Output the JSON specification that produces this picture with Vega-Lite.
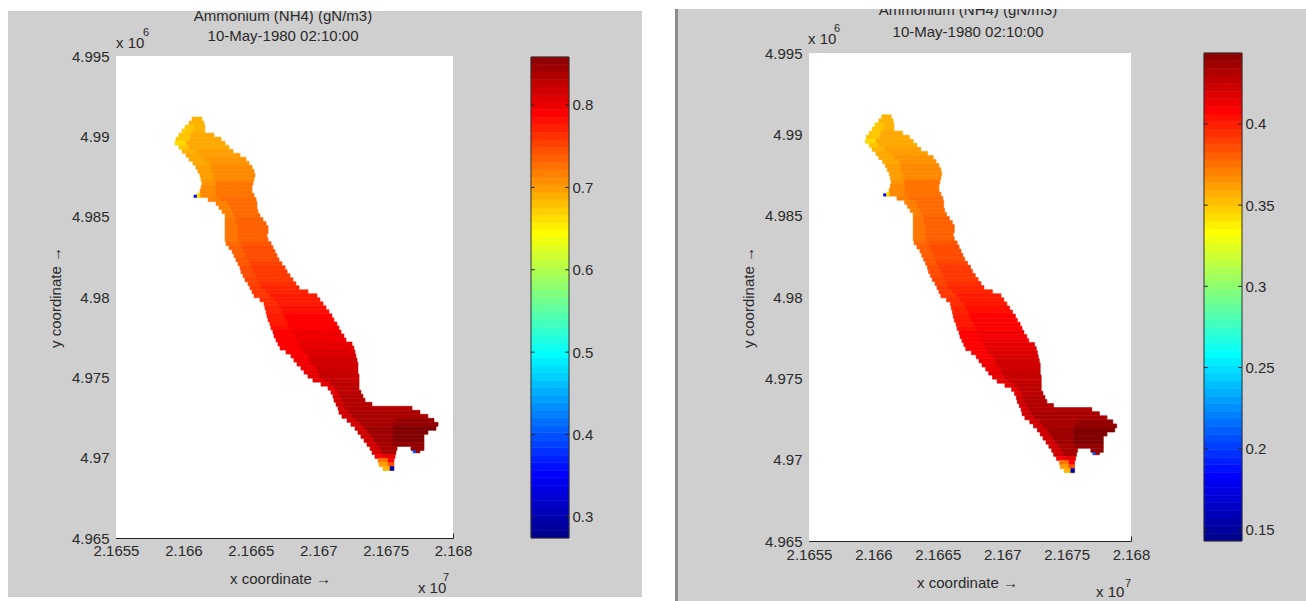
{"$schema":"https://vega.github.io/schema/vega-lite/v6.json","padding":{"left":8,"top":9,"right":0,"bottom":0},"background":"white","spacing":33,"bounds":"flush","config":{"view":{"fill":"#cfcfcf","stroke":null},"axis":{"grid":false,"labelFont":"Liberation Sans","titleFont":"Liberation Sans","labelFontSize":15,"titleFontSize":15,"titleFontWeight":"normal","labelColor":"#2a2a2a","titleColor":"#2a2a2a","domainColor":"#222222","tickColor":"#222222","labelOverlap":false,"labelBound":false,"labelFlush":false}},
"datasets":{"cells":[
{"x0":21660640,"x1":21661010,"y0":4990950,"y1":4991200,"a":0.6831,"b":0.3536},{"x0":21661010,"x1":21661380,"y0":4990950,"y1":4991200,"a":0.6831,"b":0.3536},
{"x0":21660420,"x1":21661010,"y0":4990700,"y1":4990950,"a":0.6831,"b":0.3536},{"x0":21661010,"x1":21661530,"y0":4990700,"y1":4990950,"a":0.6831,"b":0.3536},
{"x0":21660120,"x1":21660860,"y0":4990450,"y1":4990700,"a":0.6714,"b":0.3475},{"x0":21660860,"x1":21661600,"y0":4990450,"y1":4990700,"a":0.6831,"b":0.3536},
{"x0":21659900,"x1":21660710,"y0":4990200,"y1":4990450,"a":0.6714,"b":0.3475},{"x0":21660710,"x1":21661600,"y0":4990200,"y1":4990450,"a":0.6831,"b":0.3536},
{"x0":21659670,"x1":21660560,"y0":4989950,"y1":4990200,"a":0.6714,"b":0.3475},{"x0":21660560,"x1":21662270,"y0":4989950,"y1":4990200,"a":0.6889,"b":0.3566},
{"x0":21659450,"x1":21660490,"y0":4989700,"y1":4989950,"a":0.6714,"b":0.3475},{"x0":21660490,"x1":21662790,"y0":4989700,"y1":4989950,"a":0.6889,"b":0.3566},
{"x0":21659380,"x1":21660200,"y0":4989450,"y1":4989700,"a":0.6597,"b":0.3415},{"x0":21660200,"x1":21663090,"y0":4989450,"y1":4989700,"a":0.6889,"b":0.3566},
{"x0":21659670,"x1":21660400,"y0":4989200,"y1":4989450,"a":0.6714,"b":0.3475},{"x0":21660400,"x1":21663380,"y0":4989200,"y1":4989450,"a":0.6889,"b":0.3566},
{"x0":21659900,"x1":21660930,"y0":4988950,"y1":4989200,"a":0.6831,"b":0.3536},{"x0":21660930,"x1":21663680,"y0":4988950,"y1":4989200,"a":0.6948,"b":0.3596},
{"x0":21660190,"x1":21661230,"y0":4988700,"y1":4988950,"a":0.6889,"b":0.3566},{"x0":21661230,"x1":21664200,"y0":4988700,"y1":4988950,"a":0.6948,"b":0.3596},
{"x0":21660420,"x1":21661600,"y0":4988450,"y1":4988700,"a":0.6889,"b":0.3566},{"x0":21661600,"x1":21664640,"y0":4988450,"y1":4988700,"a":0.7006,"b":0.3626},
{"x0":21660710,"x1":21661970,"y0":4988200,"y1":4988450,"a":0.6889,"b":0.3566},{"x0":21661970,"x1":21664870,"y0":4988200,"y1":4988450,"a":0.7006,"b":0.3626},
{"x0":21660930,"x1":21662120,"y0":4987950,"y1":4988200,"a":0.6948,"b":0.3596},{"x0":21662120,"x1":21665090,"y0":4987950,"y1":4988200,"a":0.7064,"b":0.3656},
{"x0":21661080,"x1":21662120,"y0":4987700,"y1":4987950,"a":0.6948,"b":0.3596},{"x0":21662120,"x1":21665240,"y0":4987700,"y1":4987950,"a":0.7064,"b":0.3656},
{"x0":21661230,"x1":21662270,"y0":4987450,"y1":4987700,"a":0.6948,"b":0.3596},{"x0":21662270,"x1":21665310,"y0":4987450,"y1":4987700,"a":0.7064,"b":0.3656},
{"x0":21661310,"x1":21662270,"y0":4987200,"y1":4987450,"a":0.6948,"b":0.3596},{"x0":21662270,"x1":21665240,"y0":4987200,"y1":4987450,"a":0.7064,"b":0.3656},
{"x0":21661380,"x1":21662420,"y0":4986950,"y1":4987200,"a":0.7006,"b":0.3626},{"x0":21662420,"x1":21665160,"y0":4986950,"y1":4987200,"a":0.7181,"b":0.3716},
{"x0":21661310,"x1":21662420,"y0":4986700,"y1":4986950,"a":0.7064,"b":0.3656},{"x0":21662420,"x1":21665090,"y0":4986700,"y1":4986950,"a":0.7181,"b":0.3716},
{"x0":21661230,"x1":21662420,"y0":4986450,"y1":4986700,"a":0.7064,"b":0.3656},{"x0":21662420,"x1":21665090,"y0":4986450,"y1":4986700,"a":0.7181,"b":0.3716},
{"x0":21661160,"x1":21662420,"y0":4986200,"y1":4986450,"a":0.7064,"b":0.3656},{"x0":21662420,"x1":21665240,"y0":4986200,"y1":4986450,"a":0.7181,"b":0.3716},
{"x0":21660790,"x1":21661010,"y0":4986200,"y1":4986350,"a":0.3445,"b":0.1793},{"x0":21661010,"x1":21661230,"y0":4986200,"y1":4986450,"a":0.6597,"b":0.3415},
{"x0":21661830,"x1":21662720,"y0":4985950,"y1":4986200,"a":0.7122,"b":0.3686},{"x0":21662720,"x1":21665390,"y0":4985950,"y1":4986200,"a":0.7239,"b":0.3746},
{"x0":21662420,"x1":21663310,"y0":4985700,"y1":4985950,"a":0.7122,"b":0.3686},{"x0":21663310,"x1":21665460,"y0":4985700,"y1":4985950,"a":0.7239,"b":0.3746},
{"x0":21662640,"x1":21663460,"y0":4985450,"y1":4985700,"a":0.7122,"b":0.3686},{"x0":21663460,"x1":21665460,"y0":4985450,"y1":4985700,"a":0.7239,"b":0.3746},
{"x0":21662860,"x1":21663610,"y0":4985200,"y1":4985450,"a":0.7122,"b":0.3686},{"x0":21663610,"x1":21665530,"y0":4985200,"y1":4985450,"a":0.7239,"b":0.3746},
{"x0":21663090,"x1":21663750,"y0":4984950,"y1":4985200,"a":0.7122,"b":0.3686},{"x0":21663750,"x1":21665680,"y0":4984950,"y1":4985200,"a":0.7239,"b":0.3746},
{"x0":21663090,"x1":21663900,"y0":4984700,"y1":4984950,"a":0.7181,"b":0.3716},{"x0":21663900,"x1":21665900,"y0":4984700,"y1":4984950,"a":0.7298,"b":0.3776},
{"x0":21663090,"x1":21663900,"y0":4984450,"y1":4984700,"a":0.7181,"b":0.3716},{"x0":21663900,"x1":21666130,"y0":4984450,"y1":4984700,"a":0.7298,"b":0.3776},
{"x0":21663090,"x1":21664050,"y0":4984200,"y1":4984450,"a":0.7181,"b":0.3716},{"x0":21664050,"x1":21666280,"y0":4984200,"y1":4984450,"a":0.7298,"b":0.3776},
{"x0":21663090,"x1":21664050,"y0":4983950,"y1":4984200,"a":0.7181,"b":0.3716},{"x0":21664050,"x1":21666280,"y0":4983950,"y1":4984200,"a":0.7298,"b":0.3776},
{"x0":21663090,"x1":21664050,"y0":4983700,"y1":4983950,"a":0.7181,"b":0.3716},{"x0":21664050,"x1":21666200,"y0":4983700,"y1":4983950,"a":0.7298,"b":0.3776},
{"x0":21663090,"x1":21664050,"y0":4983450,"y1":4983700,"a":0.7181,"b":0.3716},{"x0":21664050,"x1":21666280,"y0":4983450,"y1":4983700,"a":0.7298,"b":0.3776},
{"x0":21663160,"x1":21664200,"y0":4983200,"y1":4983450,"a":0.7239,"b":0.3746},{"x0":21664200,"x1":21666500,"y0":4983200,"y1":4983450,"a":0.7356,"b":0.3806},
{"x0":21663380,"x1":21664350,"y0":4982950,"y1":4983200,"a":0.7298,"b":0.3776},{"x0":21664350,"x1":21666650,"y0":4982950,"y1":4983200,"a":0.7415,"b":0.3836},
{"x0":21663610,"x1":21664500,"y0":4982700,"y1":4982950,"a":0.7298,"b":0.3776},{"x0":21664500,"x1":21666800,"y0":4982700,"y1":4982950,"a":0.7415,"b":0.3836},
{"x0":21663750,"x1":21664640,"y0":4982450,"y1":4982700,"a":0.7298,"b":0.3776},{"x0":21664640,"x1":21666940,"y0":4982450,"y1":4982700,"a":0.7415,"b":0.3836},
{"x0":21663900,"x1":21664790,"y0":4982200,"y1":4982450,"a":0.7356,"b":0.3806},{"x0":21664790,"x1":21667090,"y0":4982200,"y1":4982450,"a":0.7415,"b":0.3836},
{"x0":21664050,"x1":21664940,"y0":4981950,"y1":4982200,"a":0.7356,"b":0.3806},{"x0":21664940,"x1":21667310,"y0":4981950,"y1":4982200,"a":0.7473,"b":0.3866},
{"x0":21664200,"x1":21665090,"y0":4981700,"y1":4981950,"a":0.7415,"b":0.3836},{"x0":21665090,"x1":21667540,"y0":4981700,"y1":4981950,"a":0.7531,"b":0.3896},
{"x0":21664270,"x1":21665240,"y0":4981450,"y1":4981700,"a":0.7415,"b":0.3836},{"x0":21665240,"x1":21667690,"y0":4981450,"y1":4981700,"a":0.7531,"b":0.3896},
{"x0":21664420,"x1":21665390,"y0":4981200,"y1":4981450,"a":0.7415,"b":0.3836},{"x0":21665390,"x1":21667910,"y0":4981200,"y1":4981450,"a":0.7531,"b":0.3896},
{"x0":21664570,"x1":21665530,"y0":4980950,"y1":4981200,"a":0.7473,"b":0.3866},{"x0":21665530,"x1":21668130,"y0":4980950,"y1":4981200,"a":0.7531,"b":0.3896},
{"x0":21664790,"x1":21665680,"y0":4980700,"y1":4980950,"a":0.7473,"b":0.3866},{"x0":21665680,"x1":21668350,"y0":4980700,"y1":4980950,"a":0.7589,"b":0.3926},
{"x0":21664940,"x1":21665830,"y0":4980450,"y1":4980700,"a":0.7531,"b":0.3896},{"x0":21665830,"x1":21668580,"y0":4980450,"y1":4980700,"a":0.7648,"b":0.3956},
{"x0":21665090,"x1":21666130,"y0":4980200,"y1":4980450,"a":0.7531,"b":0.3896},{"x0":21666130,"x1":21669240,"y0":4980200,"y1":4980450,"a":0.7648,"b":0.3956},
{"x0":21665240,"x1":21666420,"y0":4979950,"y1":4980200,"a":0.7531,"b":0.3896},{"x0":21666420,"x1":21669910,"y0":4979950,"y1":4980200,"a":0.7706,"b":0.3986},
{"x0":21665680,"x1":21666720,"y0":4979700,"y1":4979950,"a":0.7589,"b":0.3926},{"x0":21666720,"x1":21670130,"y0":4979700,"y1":4979950,"a":0.7706,"b":0.3986},
{"x0":21665980,"x1":21667020,"y0":4979450,"y1":4979700,"a":0.7589,"b":0.3926},{"x0":21667020,"x1":21670360,"y0":4979450,"y1":4979700,"a":0.7706,"b":0.3986},
{"x0":21666050,"x1":21667170,"y0":4979200,"y1":4979450,"a":0.7648,"b":0.3956},{"x0":21667170,"x1":21670580,"y0":4979200,"y1":4979450,"a":0.7765,"b":0.4016},
{"x0":21666130,"x1":21667310,"y0":4978950,"y1":4979200,"a":0.7648,"b":0.3956},{"x0":21667310,"x1":21670800,"y0":4978950,"y1":4979200,"a":0.7765,"b":0.4016},
{"x0":21666200,"x1":21667460,"y0":4978700,"y1":4978950,"a":0.7706,"b":0.3986},{"x0":21667460,"x1":21671020,"y0":4978700,"y1":4978950,"a":0.7852,"b":0.4061},
{"x0":21666280,"x1":21667610,"y0":4978450,"y1":4978700,"a":0.7706,"b":0.3986},{"x0":21667610,"x1":21671170,"y0":4978450,"y1":4978700,"a":0.7852,"b":0.4061},
{"x0":21666420,"x1":21667760,"y0":4978200,"y1":4978450,"a":0.7706,"b":0.3986},{"x0":21667760,"x1":21671390,"y0":4978200,"y1":4978450,"a":0.7852,"b":0.4061},
{"x0":21666500,"x1":21667910,"y0":4977950,"y1":4978200,"a":0.7765,"b":0.4016},{"x0":21667910,"x1":21671540,"y0":4977950,"y1":4978200,"a":0.7852,"b":0.4061},
{"x0":21666650,"x1":21668060,"y0":4977700,"y1":4977950,"a":0.7852,"b":0.4061},{"x0":21668060,"x1":21671690,"y0":4977700,"y1":4977950,"a":0.794,"b":0.4106},
{"x0":21666720,"x1":21668200,"y0":4977450,"y1":4977700,"a":0.7852,"b":0.4061},{"x0":21668200,"x1":21671910,"y0":4977450,"y1":4977700,"a":0.794,"b":0.4106},
{"x0":21666870,"x1":21668350,"y0":4977200,"y1":4977450,"a":0.7852,"b":0.4061},{"x0":21668350,"x1":21672060,"y0":4977200,"y1":4977450,"a":0.794,"b":0.4106},
{"x0":21667020,"x1":21668500,"y0":4976950,"y1":4977200,"a":0.7852,"b":0.4061},{"x0":21668500,"x1":21672510,"y0":4976950,"y1":4977200,"a":0.7998,"b":0.4137},
{"x0":21667170,"x1":21668650,"y0":4976700,"y1":4976950,"a":0.7852,"b":0.4061},{"x0":21668650,"x1":21672650,"y0":4976700,"y1":4976950,"a":0.7998,"b":0.4137},
{"x0":21667610,"x1":21668950,"y0":4976450,"y1":4976700,"a":0.7882,"b":0.4076},{"x0":21668950,"x1":21672730,"y0":4976450,"y1":4976700,"a":0.8057,"b":0.4167},
{"x0":21667980,"x1":21669240,"y0":4976200,"y1":4976450,"a":0.7882,"b":0.4076},{"x0":21669240,"x1":21672800,"y0":4976200,"y1":4976450,"a":0.8057,"b":0.4167},
{"x0":21668200,"x1":21669390,"y0":4975950,"y1":4976200,"a":0.794,"b":0.4106},{"x0":21669390,"x1":21672880,"y0":4975950,"y1":4976200,"a":0.8115,"b":0.4197},
{"x0":21668430,"x1":21669540,"y0":4975700,"y1":4975950,"a":0.794,"b":0.4106},{"x0":21669540,"x1":21672950,"y0":4975700,"y1":4975950,"a":0.8115,"b":0.4197},
{"x0":21668720,"x1":21669840,"y0":4975450,"y1":4975700,"a":0.794,"b":0.4106},{"x0":21669840,"x1":21672950,"y0":4975450,"y1":4975700,"a":0.8115,"b":0.4197},
{"x0":21668950,"x1":21669980,"y0":4975200,"y1":4975450,"a":0.7998,"b":0.4137},{"x0":21669980,"x1":21672950,"y0":4975200,"y1":4975450,"a":0.8173,"b":0.4227},
{"x0":21669240,"x1":21670130,"y0":4974950,"y1":4975200,"a":0.7998,"b":0.4137},{"x0":21670130,"x1":21673030,"y0":4974950,"y1":4975200,"a":0.8173,"b":0.4227},
{"x0":21669610,"x1":21670430,"y0":4974700,"y1":4974950,"a":0.7998,"b":0.4137},{"x0":21670430,"x1":21673030,"y0":4974700,"y1":4974950,"a":0.8173,"b":0.4227},
{"x0":21670210,"x1":21670870,"y0":4974450,"y1":4974700,"a":0.7998,"b":0.4137},{"x0":21670870,"x1":21673030,"y0":4974450,"y1":4974700,"a":0.8232,"b":0.4257},
{"x0":21670730,"x1":21671250,"y0":4974200,"y1":4974450,"a":0.7998,"b":0.4137},{"x0":21671250,"x1":21673030,"y0":4974200,"y1":4974450,"a":0.8232,"b":0.4257},
{"x0":21670950,"x1":21671470,"y0":4973950,"y1":4974200,"a":0.7998,"b":0.4137},{"x0":21671470,"x1":21673170,"y0":4973950,"y1":4974200,"a":0.8232,"b":0.4257},
{"x0":21671100,"x1":21671620,"y0":4973700,"y1":4973950,"a":0.8115,"b":0.4197},{"x0":21671620,"x1":21673320,"y0":4973700,"y1":4973950,"a":0.829,"b":0.4287},
{"x0":21671170,"x1":21671760,"y0":4973450,"y1":4973700,"a":0.8115,"b":0.4197},{"x0":21671760,"x1":21673470,"y0":4973450,"y1":4973700,"a":0.829,"b":0.4287},
{"x0":21671320,"x1":21671910,"y0":4973200,"y1":4973450,"a":0.8115,"b":0.4197},{"x0":21671910,"x1":21673990,"y0":4973200,"y1":4973450,"a":0.829,"b":0.4287},
{"x0":21671470,"x1":21672060,"y0":4972950,"y1":4973200,"a":0.8115,"b":0.4197},{"x0":21672060,"x1":21676960,"y0":4972950,"y1":4973200,"a":0.829,"b":0.4287},
{"x0":21671540,"x1":21672280,"y0":4972700,"y1":4972950,"a":0.8115,"b":0.4197},{"x0":21672280,"x1":21677550,"y0":4972700,"y1":4972950,"a":0.8349,"b":0.4317},
{"x0":21671760,"x1":21672510,"y0":4972450,"y1":4972700,"a":0.8115,"b":0.4197},{"x0":21672510,"x1":21678140,"y0":4972450,"y1":4972700,"a":0.8349,"b":0.4317},
{"x0":21672140,"x1":21672880,"y0":4972200,"y1":4972450,"a":0.8115,"b":0.4197},{"x0":21672880,"x1":21675850,"y0":4972200,"y1":4972450,"a":0.8349,"b":0.4317},{"x0":21675850,"x1":21678590,"y0":4972200,"y1":4972450,"a":0.8465,"b":0.4377},
{"x0":21672430,"x1":21673170,"y0":4971950,"y1":4972200,"a":0.8115,"b":0.4197},{"x0":21673170,"x1":21675550,"y0":4971950,"y1":4972200,"a":0.8349,"b":0.4317},{"x0":21675550,"x1":21678890,"y0":4971950,"y1":4972200,"a":0.8465,"b":0.4377},
{"x0":21672730,"x1":21673470,"y0":4971700,"y1":4971950,"a":0.8115,"b":0.4197},{"x0":21673470,"x1":21675550,"y0":4971700,"y1":4971950,"a":0.8407,"b":0.4347},{"x0":21675550,"x1":21678740,"y0":4971700,"y1":4971950,"a":0.8582,"b":0.4437},
{"x0":21672950,"x1":21673690,"y0":4971450,"y1":4971700,"a":0.8115,"b":0.4197},{"x0":21673690,"x1":21675550,"y0":4971450,"y1":4971700,"a":0.8407,"b":0.4347},{"x0":21675550,"x1":21678140,"y0":4971450,"y1":4971700,"a":0.8582,"b":0.4437},
{"x0":21673170,"x1":21673920,"y0":4971200,"y1":4971450,"a":0.8115,"b":0.4197},{"x0":21673920,"x1":21675550,"y0":4971200,"y1":4971450,"a":0.8407,"b":0.4347},{"x0":21675550,"x1":21677850,"y0":4971200,"y1":4971450,"a":0.8582,"b":0.4437},
{"x0":21673400,"x1":21674140,"y0":4970950,"y1":4971200,"a":0.8115,"b":0.4197},{"x0":21674140,"x1":21675550,"y0":4970950,"y1":4971200,"a":0.8407,"b":0.4347},{"x0":21675550,"x1":21677850,"y0":4970950,"y1":4971200,"a":0.8582,"b":0.4437},
{"x0":21673620,"x1":21674360,"y0":4970700,"y1":4970950,"a":0.8115,"b":0.4197},{"x0":21674360,"x1":21675550,"y0":4970700,"y1":4970950,"a":0.8349,"b":0.4317},{"x0":21675550,"x1":21677850,"y0":4970700,"y1":4970950,"a":0.8465,"b":0.4377},
{"x0":21673840,"x1":21674580,"y0":4970450,"y1":4970700,"a":0.8115,"b":0.4197},{"x0":21674580,"x1":21675850,"y0":4970450,"y1":4970700,"a":0.8349,"b":0.4317},{"x0":21676880,"x1":21677850,"y0":4970450,"y1":4970700,"a":0.8465,"b":0.4377},
{"x0":21673990,"x1":21674730,"y0":4970200,"y1":4970450,"a":0.8115,"b":0.4197},{"x0":21674730,"x1":21675770,"y0":4970200,"y1":4970450,"a":0.8349,"b":0.4317},{"x0":21677030,"x1":21677250,"y0":4970300,"y1":4970450,"a":0.3912,"b":0.2033},{"x0":21677250,"x1":21677550,"y0":4970300,"y1":4970450,"a":0.8465,"b":0.4377},
{"x0":21674210,"x1":21674950,"y0":4969950,"y1":4970200,"a":0.7882,"b":0.4076},{"x0":21674950,"x1":21675700,"y0":4969950,"y1":4970200,"a":0.7998,"b":0.4137},
{"x0":21674440,"x1":21675180,"y0":4969700,"y1":4969950,"a":0.7181,"b":0.3716},{"x0":21675180,"x1":21675620,"y0":4969700,"y1":4969950,"a":0.7882,"b":0.4076},
{"x0":21674510,"x1":21675180,"y0":4969450,"y1":4969700,"a":0.6948,"b":0.3596},{"x0":21675180,"x1":21675620,"y0":4969450,"y1":4969700,"a":0.7415,"b":0.3836},
{"x0":21674810,"x1":21675330,"y0":4969200,"y1":4969450,"a":0.6831,"b":0.3536},{"x0":21675330,"x1":21675620,"y0":4969200,"y1":4969450,"a":0.2862,"b":0.1492}
],
"bar":[
{"a0":0.2745,"a1":0.2836,"b0":0.1432,"b1":0.1479},{"a0":0.2836,"a1":0.2927,"b0":0.1479,"b1":0.1526},{"a0":0.2927,"a1":0.3019,"b0":0.1526,"b1":0.1573},{"a0":0.3019,"a1":0.311,"b0":0.1573,"b1":0.162},{"a0":0.311,"a1":0.3201,"b0":0.162,"b1":0.1667},{"a0":0.3201,"a1":0.3292,"b0":0.1667,"b1":0.1714},{"a0":0.3292,"a1":0.3383,"b0":0.1714,"b1":0.1761},{"a0":0.3383,"a1":0.3475,"b0":0.1761,"b1":0.1808},
{"a0":0.3475,"a1":0.3566,"b0":0.1808,"b1":0.1855},{"a0":0.3566,"a1":0.3657,"b0":0.1855,"b1":0.1902},{"a0":0.3657,"a1":0.3748,"b0":0.1902,"b1":0.1948},{"a0":0.3748,"a1":0.3839,"b0":0.1948,"b1":0.1995},{"a0":0.3839,"a1":0.3931,"b0":0.1995,"b1":0.2042},{"a0":0.3931,"a1":0.4022,"b0":0.2042,"b1":0.2089},{"a0":0.4022,"a1":0.4113,"b0":0.2089,"b1":0.2136},{"a0":0.4113,"a1":0.4204,"b0":0.2136,"b1":0.2183},
{"a0":0.4204,"a1":0.4295,"b0":0.2183,"b1":0.223},{"a0":0.4295,"a1":0.4387,"b0":0.223,"b1":0.2277},{"a0":0.4387,"a1":0.4478,"b0":0.2277,"b1":0.2324},{"a0":0.4478,"a1":0.4569,"b0":0.2324,"b1":0.2371},{"a0":0.4569,"a1":0.466,"b0":0.2371,"b1":0.2418},{"a0":0.466,"a1":0.4751,"b0":0.2418,"b1":0.2465},{"a0":0.4751,"a1":0.4843,"b0":0.2465,"b1":0.2512},{"a0":0.4843,"a1":0.4934,"b0":0.2512,"b1":0.2559},
{"a0":0.4934,"a1":0.5025,"b0":0.2559,"b1":0.2606},{"a0":0.5025,"a1":0.5116,"b0":0.2606,"b1":0.2653},{"a0":0.5116,"a1":0.5207,"b0":0.2653,"b1":0.27},{"a0":0.5207,"a1":0.5299,"b0":0.27,"b1":0.2747},{"a0":0.5299,"a1":0.539,"b0":0.2747,"b1":0.2794},{"a0":0.539,"a1":0.5481,"b0":0.2794,"b1":0.2841},{"a0":0.5481,"a1":0.5572,"b0":0.2841,"b1":0.2888},{"a0":0.5572,"a1":0.5663,"b0":0.2888,"b1":0.2934},
{"a0":0.5663,"a1":0.5755,"b0":0.2934,"b1":0.2981},{"a0":0.5755,"a1":0.5846,"b0":0.2981,"b1":0.3028},{"a0":0.5846,"a1":0.5937,"b0":0.3028,"b1":0.3075},{"a0":0.5937,"a1":0.6028,"b0":0.3075,"b1":0.3122},{"a0":0.6028,"a1":0.6119,"b0":0.3122,"b1":0.3169},{"a0":0.6119,"a1":0.6211,"b0":0.3169,"b1":0.3216},{"a0":0.6211,"a1":0.6302,"b0":0.3216,"b1":0.3263},{"a0":0.6302,"a1":0.6393,"b0":0.3263,"b1":0.331},
{"a0":0.6393,"a1":0.6484,"b0":0.331,"b1":0.3357},{"a0":0.6484,"a1":0.6575,"b0":0.3357,"b1":0.3404},{"a0":0.6575,"a1":0.6667,"b0":0.3404,"b1":0.3451},{"a0":0.6667,"a1":0.6758,"b0":0.3451,"b1":0.3498},{"a0":0.6758,"a1":0.6849,"b0":0.3498,"b1":0.3545},{"a0":0.6849,"a1":0.694,"b0":0.3545,"b1":0.3592},{"a0":0.694,"a1":0.7031,"b0":0.3592,"b1":0.3639},{"a0":0.7031,"a1":0.7123,"b0":0.3639,"b1":0.3686},
{"a0":0.7123,"a1":0.7214,"b0":0.3686,"b1":0.3733},{"a0":0.7214,"a1":0.7305,"b0":0.3733,"b1":0.378},{"a0":0.7305,"a1":0.7396,"b0":0.378,"b1":0.3827},{"a0":0.7396,"a1":0.7487,"b0":0.3827,"b1":0.3874},{"a0":0.7487,"a1":0.7579,"b0":0.3874,"b1":0.392},{"a0":0.7579,"a1":0.767,"b0":0.392,"b1":0.3967},{"a0":0.767,"a1":0.7761,"b0":0.3967,"b1":0.4014},{"a0":0.7761,"a1":0.7852,"b0":0.4014,"b1":0.4061},
{"a0":0.7852,"a1":0.7943,"b0":0.4061,"b1":0.4108},{"a0":0.7943,"a1":0.8035,"b0":0.4108,"b1":0.4155},{"a0":0.8035,"a1":0.8126,"b0":0.4155,"b1":0.4202},{"a0":0.8126,"a1":0.8217,"b0":0.4202,"b1":0.4249},{"a0":0.8217,"a1":0.8308,"b0":0.4249,"b1":0.4296},{"a0":0.8308,"a1":0.8399,"b0":0.4296,"b1":0.4343},{"a0":0.8399,"a1":0.8491,"b0":0.4343,"b1":0.439},{"a0":0.8491,"a1":0.8582,"b0":0.439,"b1":0.4437}
]},
"hconcat":[
{"width":634,"height":588,"resolve":{"scale":{"x":"independent","y":"independent","fill":"independent","stroke":"independent"},"axis":{"x":"independent","y":"independent"}},
"layer":[
{"encoding":{"x":{"field":"x0","type":"quantitative","scale":{"domain":[21655000,21680000],"range":[108,445],"nice":false,"zero":false},"axis":{"values":[21655000,21660000,21665000,21670000,21675000,21680000],"labelExpr":"'' + datum.value/10000000","tickSize":-5,"labelPadding":10,"title":"x coordinate →","titlePadding":13,"offset":-59,"titleX":272}},"y":{"field":"y0","type":"quantitative","scale":{"domain":[4965000,4995000],"range":[529,47],"nice":false,"zero":false},"axis":{"values":[4965000,4970000,4975000,4980000,4985000,4990000,4995000],"labelExpr":"'' + datum.value/1000000","tickSize":-5,"labelPadding":12,"title":"y coordinate →","titlePadding":8,"offset":-108}}},
"layer":[
{"data":{"values":[{"x0":21655000,"x1":21680000,"y0":4965000,"y1":4995000}]},"mark":{"type":"rect","fill":"white"},"encoding":{"x2":{"field":"x1"},"y2":{"field":"y1"}}},
{"data":{"name":"cells"},"mark":{"type":"rect","strokeWidth":0.6},"encoding":{"x2":{"field":"x1"},"y2":{"field":"y1"},"fill":{"field":"a","type":"quantitative","legend":null,"scale":{"domain":[0.2745,0.3475,0.4934,0.6393,0.7852,0.8582],"range":["#00008f","#0000ff","#00ffff","#ffff00","#ff0000","#800000"],"interpolate":"rgb"}},"stroke":{"field":"a","type":"quantitative","legend":null,"scale":{"domain":[0.2745,0.3475,0.4934,0.6393,0.7852,0.8582],"range":["#00008f","#0000ff","#00ffff","#ffff00","#ff0000","#800000"],"interpolate":"rgb"}}}},
{"data":{"values":[{"x0":21667390,"y0":4997180,"t":"Ammonium (NH4) (gN/m3)"},{"x0":21667390,"y0":4995930,"t":"10-May-1980 02:10:00"}]},"mark":{"type":"text","font":"Liberation Sans","fontSize":15,"color":"#2a2a2a","baseline":"alphabetic","align":"center","clip":true},"encoding":{"text":{"field":"t"}}},
{"data":{"values":[{"x0":21655000,"y0":4995500,"t":"x 10"},{"x0":21677400,"y0":4961580,"t":"x 10"}]},"mark":{"type":"text","font":"Liberation Sans","fontSize":15,"color":"#2a2a2a","baseline":"alphabetic","align":"left","clip":true},"encoding":{"text":{"field":"t"}}},
{"data":{"values":[{"x0":21657000,"y0":4996240,"t":"6"},{"x0":21679260,"y0":4962320,"t":"7"}]},"mark":{"type":"text","font":"Liberation Sans","fontSize":11,"color":"#2a2a2a","baseline":"alphabetic","align":"left","clip":true},"encoding":{"text":{"field":"t"}}},
{"data":{"values":[{"x0":21640000,"x1":21695000,"y0":4997800,"y1":4998200}]},"mark":{"type":"rect","fill":"white","clip":true},"encoding":{"x2":{"field":"x1"},"y2":{"field":"y1"}}}
]},
{"encoding":{"y":{"scale":{"domain":[0.2745,0.8582],"range":[529,48],"nice":false,"zero":false}}},"layer":[
{"data":{"name":"bar"},"mark":{"type":"rect","strokeWidth":0.5},"encoding":{"x":{"datum":0,"type":"quantitative","scale":{"domain":[0,1],"range":[523,561]},"axis":null},"x2":{"datum":1},"y":{"field":"a0","type":"quantitative","scale":{"domain":[0.2745,0.8582],"range":[529,48],"nice":false,"zero":false},"axis":{"values":[0.3,0.4,0.5,0.6,0.7,0.8],"orient":"right","ticks":false,"domain":false,"labelPadding":3,"title":null,"offset":-73,"labelExpr":"'' + datum.value"}},"y2":{"field":"a1"},"fill":{"field":"a0","type":"quantitative","legend":null,"scale":{"domain":[0.2745,0.3475,0.4934,0.6393,0.7852,0.8582],"range":["#00008f","#0000ff","#00ffff","#ffff00","#ff0000","#800000"],"interpolate":"rgb"}},"stroke":{"field":"a0","type":"quantitative","legend":null,"scale":{"domain":[0.2745,0.3475,0.4934,0.6393,0.7852,0.8582],"range":["#00008f","#0000ff","#00ffff","#ffff00","#ff0000","#800000"],"interpolate":"rgb"}}}},
{"data":{"values":[{"p0":0,"p1":0.1,"v":0.3},{"p0":0.9,"p1":1,"v":0.3},{"p0":0,"p1":0.1,"v":0.4},{"p0":0.9,"p1":1,"v":0.4},{"p0":0,"p1":0.1,"v":0.5},{"p0":0.9,"p1":1,"v":0.5},{"p0":0,"p1":0.1,"v":0.6},{"p0":0.9,"p1":1,"v":0.6},{"p0":0,"p1":0.1,"v":0.7},{"p0":0.9,"p1":1,"v":0.7},{"p0":0,"p1":0.1,"v":0.8},{"p0":0.9,"p1":1,"v":0.8}]},"mark":{"type":"rule","color":"#222222"},"encoding":{"x":{"field":"p0","type":"quantitative","scale":{"domain":[0,1],"range":[523,561]},"axis":null},"x2":{"field":"p1"},"y":{"field":"v","type":"quantitative","scale":{"domain":[0.2745,0.8582],"range":[529,48],"nice":false,"zero":false},"axis":{"values":[0.3,0.4,0.5,0.6,0.7,0.8],"orient":"right","ticks":false,"domain":false,"labelPadding":3,"title":null,"offset":-73,"labelExpr":"'' + datum.value"}}}},
{"data":{"values":[{"p0":0,"p1":1,"lo":0.2745,"hi":0.8582}]},"mark":{"type":"rect","fillOpacity":0,"stroke":"#333333","strokeWidth":1},"encoding":{"x":{"field":"p0","type":"quantitative","scale":{"domain":[0,1],"range":[523,561]},"axis":null},"x2":{"field":"p1"},"y":{"field":"lo","type":"quantitative","scale":{"domain":[0.2745,0.8582],"range":[529,48],"nice":false,"zero":false},"axis":{"values":[0.3,0.4,0.5,0.6,0.7,0.8],"orient":"right","ticks":false,"domain":false,"labelPadding":3,"title":null,"offset":-73,"labelExpr":"'' + datum.value"}},"y2":{"field":"hi"}}}
]}
]},
{"width":631,"height":592,"resolve":{"scale":{"x":"independent","y":"independent","fill":"independent","stroke":"independent"},"axis":{"x":"independent","y":"independent"}},
"layer":[
{"encoding":{"x":{"field":"x0","type":"quantitative","scale":{"domain":[21655000,21680000],"range":[134,456],"nice":false,"zero":false},"axis":{"values":[21655000,21660000,21665000,21670000,21675000,21680000],"labelExpr":"'' + datum.value/10000000","tickSize":-5,"labelPadding":11,"title":"x coordinate →","titlePadding":13,"offset":-60,"titleX":292}},"y":{"field":"y0","type":"quantitative","scale":{"domain":[4965000,4995000],"range":[532,44],"nice":false,"zero":false},"axis":{"values":[4965000,4970000,4975000,4980000,4985000,4990000,4995000],"labelExpr":"'' + datum.value/1000000","tickSize":-5,"labelPadding":12,"title":"y coordinate →","titlePadding":8,"offset":-134}}},
"layer":[
{"data":{"values":[{"x0":21655000,"x1":21680000,"y0":4965000,"y1":4995000}]},"mark":{"type":"rect","fill":"white"},"encoding":{"x2":{"field":"x1"},"y2":{"field":"y1"}}},
{"data":{"name":"cells"},"mark":{"type":"rect","strokeWidth":0.6},"encoding":{"x2":{"field":"x1"},"y2":{"field":"y1"},"fill":{"field":"b","type":"quantitative","legend":null,"scale":{"domain":[0.1432,0.1808,0.2559,0.331,0.4061,0.4437],"range":["#00008f","#0000ff","#00ffff","#ffff00","#ff0000","#800000"],"interpolate":"rgb"}},"stroke":{"field":"b","type":"quantitative","legend":null,"scale":{"domain":[0.1432,0.1808,0.2559,0.331,0.4061,0.4437],"range":["#00008f","#0000ff","#00ffff","#ffff00","#ff0000","#800000"],"interpolate":"rgb"}}}},
{"data":{"values":[{"x0":21667345,"y0":4997340,"t":"Ammonium (NH4) (gN/m3)"},{"x0":21667345,"y0":4995980,"t":"10-May-1980 02:10:00"}]},"mark":{"type":"text","font":"Liberation Sans","fontSize":15,"color":"#2a2a2a","baseline":"alphabetic","align":"center","clip":true},"encoding":{"text":{"field":"t"}}},
{"data":{"values":[{"x0":21654920,"y0":4995550,"t":"x 10"},{"x0":21677280,"y0":4961557,"t":"x 10"}]},"mark":{"type":"text","font":"Liberation Sans","fontSize":15,"color":"#2a2a2a","baseline":"alphabetic","align":"left","clip":true},"encoding":{"text":{"field":"t"}}},
{"data":{"values":[{"x0":21656940,"y0":4996290,"t":"6"},{"x0":21679530,"y0":4962170,"t":"7"}]},"mark":{"type":"text","font":"Liberation Sans","fontSize":11,"color":"#2a2a2a","baseline":"alphabetic","align":"left","clip":true},"encoding":{"text":{"field":"t"}}},
{"data":{"values":[{"x0":21644710}]},"mark":{"type":"rule","color":"#8a8a8a","strokeWidth":3,"clip":true},"encoding":{"y":null}}
]},
{"layer":[
{"data":{"name":"bar"},"mark":{"type":"rect","strokeWidth":0.5},"encoding":{"x":{"datum":0,"type":"quantitative","scale":{"domain":[0,1],"range":[529,567]},"axis":null},"x2":{"datum":1},"y":{"field":"b0","type":"quantitative","scale":{"domain":[0.1432,0.4437],"range":[532,44],"nice":false,"zero":false},"axis":{"values":[0.15,0.2,0.25,0.3,0.35,0.4],"orient":"right","ticks":false,"domain":false,"labelPadding":3,"title":null,"offset":-64,"labelExpr":"'' + datum.value"}},"y2":{"field":"b1"},"fill":{"field":"b0","type":"quantitative","legend":null,"scale":{"domain":[0.1432,0.1808,0.2559,0.331,0.4061,0.4437],"range":["#00008f","#0000ff","#00ffff","#ffff00","#ff0000","#800000"],"interpolate":"rgb"}},"stroke":{"field":"b0","type":"quantitative","legend":null,"scale":{"domain":[0.1432,0.1808,0.2559,0.331,0.4061,0.4437],"range":["#00008f","#0000ff","#00ffff","#ffff00","#ff0000","#800000"],"interpolate":"rgb"}}}},
{"data":{"values":[{"p0":0,"p1":0.1,"v":0.15},{"p0":0.9,"p1":1,"v":0.15},{"p0":0,"p1":0.1,"v":0.2},{"p0":0.9,"p1":1,"v":0.2},{"p0":0,"p1":0.1,"v":0.25},{"p0":0.9,"p1":1,"v":0.25},{"p0":0,"p1":0.1,"v":0.3},{"p0":0.9,"p1":1,"v":0.3},{"p0":0,"p1":0.1,"v":0.35},{"p0":0.9,"p1":1,"v":0.35},{"p0":0,"p1":0.1,"v":0.4},{"p0":0.9,"p1":1,"v":0.4}]},"mark":{"type":"rule","color":"#222222"},"encoding":{"x":{"field":"p0","type":"quantitative","scale":{"domain":[0,1],"range":[529,567]},"axis":null},"x2":{"field":"p1"},"y":{"field":"v","type":"quantitative","scale":{"domain":[0.1432,0.4437],"range":[532,44],"nice":false,"zero":false},"axis":{"values":[0.15,0.2,0.25,0.3,0.35,0.4],"orient":"right","ticks":false,"domain":false,"labelPadding":3,"title":null,"offset":-64,"labelExpr":"'' + datum.value"}}}},
{"data":{"values":[{"p0":0,"p1":1,"lo":0.1432,"hi":0.4437}]},"mark":{"type":"rect","fillOpacity":0,"stroke":"#333333","strokeWidth":1},"encoding":{"x":{"field":"p0","type":"quantitative","scale":{"domain":[0,1],"range":[529,567]},"axis":null},"x2":{"field":"p1"},"y":{"field":"lo","type":"quantitative","scale":{"domain":[0.1432,0.4437],"range":[532,44],"nice":false,"zero":false},"axis":{"values":[0.15,0.2,0.25,0.3,0.35,0.4],"orient":"right","ticks":false,"domain":false,"labelPadding":3,"title":null,"offset":-64,"labelExpr":"'' + datum.value"}},"y2":{"field":"hi"}}}
]}
]}
]}
